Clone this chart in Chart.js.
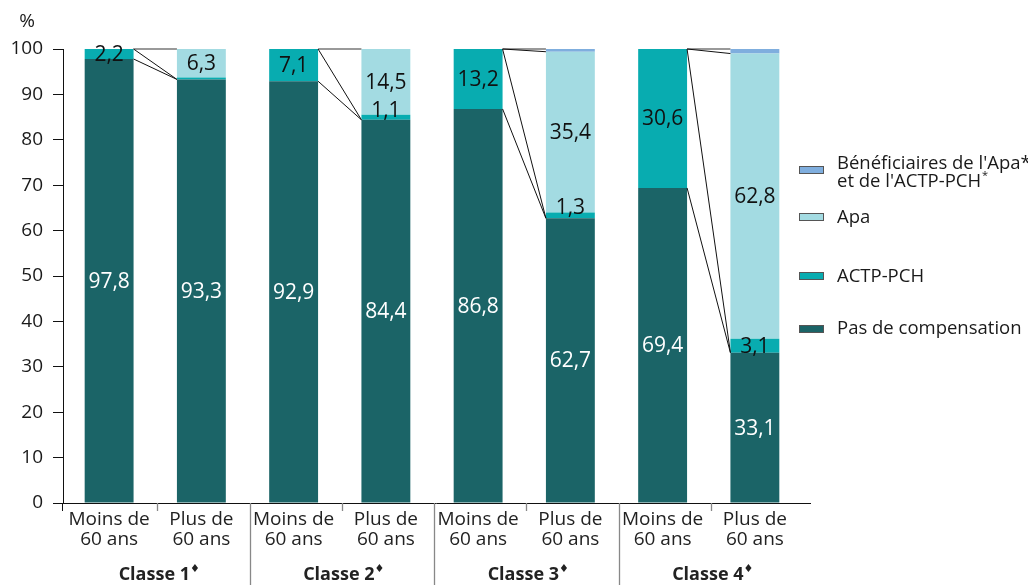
<!DOCTYPE html>
<html>
<head>
<meta charset="utf-8">
<script src="https://cdn.jsdelivr.net/npm/chart.js@4.4.0/dist/chart.umd.min.js"></script>
<style>
html,body{margin:0;padding:0;background:#fff;}
</style>
</head>
<body>
<canvas id="CanvasChart" width="1028" height="585"></canvas>
<script>
// categories
const ageLabels = [['Moins de','60 ans'],['Plus de','60 ans'],['Moins de','60 ans'],['Plus de','60 ans'],
                   ['Moins de','60 ans'],['Plus de','60 ans'],['Moins de','60 ans'],['Plus de','60 ans']];
const groupLabels = ['Classe 1','Classe 2','Classe 3','Classe 4'];

// series values (%)
const pasComp   = [97.8, 93.3, 92.9, 84.4, 86.8, 62.7, 69.4, 33.1];
const actpPch   = [2.2, 0.4, 7.1, 1.1, 13.2, 1.3, 30.6, 3.1];
const apa       = [0, 6.3, 0, 14.5, 0, 35.4, 0, 62.8];
const apaEtActp = [0, 0, 0, 0, 0, 0.6, 0, 1.0];

// y ticks
const yTicks = [0,10,20,30,40,50,60,70,80,90,100];

const FONT = '"Open Sans", sans-serif';
const colPas = '#1b6467', colActp = '#08acb0', colApa = '#a3dbe2', colBoth = '#7faede';

function fmt(v){ return v.toFixed(1).replace('.', ','); }

const extras = {
  id: 'extras',
  afterDatasetsDraw(chart) {
    const ctx = chart.ctx, ys = chart.scales.y, area = chart.chartArea;
    const py = v => ys.getPixelForValue(v);
    const bars = chart.getDatasetMeta(0).data;
    const line = (x1,y1,x2,y2) => { ctx.beginPath(); ctx.moveTo(x1,y1); ctx.lineTo(x2,y2); ctx.stroke(); };
    ctx.save();

    // connector lines between the two bars of each class
    for (let g = 0; g < groupLabels.length; g++) {
      const l = 2*g, r = 2*g+1;
      const xl = bars[l].x + bars[l].width/2, xr = bars[r].x - bars[r].width/2;
      const leftTop = pasComp[l] + actpPch[l] + apa[l] + apaEtActp[l];
      const rApaTop = pasComp[r] + actpPch[r] + apa[r];
      const rTop = rApaTop + apaEtActp[r];
      ctx.strokeStyle = '#777'; ctx.lineWidth = 1.6;
      line(xl, py(leftTop), xr, py(rTop));
      ctx.strokeStyle = '#111'; ctx.lineWidth = 1;
      if (apaEtActp[r] > 0) line(xl, py(leftTop), xr, py(rApaTop));
      line(xl, py(leftTop), xr, py(pasComp[r]));
      line(xl, py(pasComp[l]), xr, py(pasComp[r]));
    }

    // value labels
    ctx.textAlign = 'center'; ctx.textBaseline = 'middle';
    ctx.font = '21px ' + FONT;
    [pasComp, actpPch, apa].forEach((arr, d) => {
      const meta = chart.getDatasetMeta(d);
      arr.forEach((v, j) => {
        if (v < 1) return;
        const el = meta.data[j];
        let cy = (el.y + el.base) / 2;
        if (v < 2) cy = el.y - 5;
        ctx.fillStyle = d === 0 ? '#fff' : '#111';
        ctx.fillText(fmt(v), el.x, cy + 1);
      });
    });

    // x axis line and ticks
    const bot = area.bottom;
    ctx.strokeStyle = '#111'; ctx.lineWidth = 1;
    line(area.left - 1, bot + 0.5, area.right + 10, bot + 0.5);
    line(area.left - 0.5, bot, area.left - 0.5, bot + 8);
    ctx.strokeStyle = '#888'; ctx.lineWidth = 1.3;
    for (let i = 1; i < bars.length; i++) {
      const xb = Math.round((bars[i-1].x + bars[i].x) / 2) + 2.5;
      if (i % 2 === 0) line(xb, bot, xb, 585);
      else line(xb, bot, xb, bot + 8);
    }

    // group labels
    ctx.fillStyle = '#222';
    ctx.textBaseline = 'middle';
    for (let g = 0; g < groupLabels.length; g++) {
      const cx = (bars[2*g].x + bars[2*g+1].x) / 2 + 4;
      ctx.font = 'bold 18px ' + FONT;
      const w = ctx.measureText(groupLabels[g]).width;
      ctx.font = '11px "DejaVu Sans"';
      const w2 = ctx.measureText('\u2666').width;
      const x0 = cx - (w + w2) / 2;
      ctx.textAlign = 'left';
      ctx.font = 'bold 18px ' + FONT;
      ctx.fillText(groupLabels[g], x0, 575);
      ctx.font = '11px "DejaVu Sans"';
      ctx.fillText('\u2666', x0 + w, 569);
    }

    // "%" unit
    ctx.font = '19px ' + FONT; ctx.textAlign = 'center'; ctx.fillStyle = '#1a1a1a';
    ctx.fillText('%', 27, 22);

    // legend
    const items = [
      {c: colBoth, y: 170, lines: [["Bénéficiaires de l'Apa*", 164], ["et de l'ACTP-PCH", 182, '*']]},
      {c: colApa,  y: 217, lines: [['Apa', 218]]},
      {c: colActp, y: 276, lines: [['ACTP-PCH', 277]]},
      {c: colPas,  y: 329, lines: [['Pas de compensation', 329]]}
    ];
    items.forEach(it => {
      ctx.fillStyle = it.c;
      ctx.fillRect(799, it.y - 4, 25, 8);
      ctx.strokeStyle = '#555'; ctx.lineWidth = 1;
      ctx.strokeRect(799.5, it.y - 3.5, 24, 7);
      ctx.fillStyle = '#1a1a1a'; ctx.textAlign = 'left';
      it.lines.forEach(ln => {
        ctx.font = '18.5px ' + FONT;
        ctx.fillText(ln[0], 837, ln[1]);
        if (ln[2]) {
          const w = ctx.measureText(ln[0]).width;
          ctx.font = '11px ' + FONT;
          ctx.fillText(ln[2], 837 + w + 1, ln[1] - 6);
        }
      });
    });
    ctx.restore();
  }
};

const ctx1 = document.getElementById('CanvasChart').getContext('2d');
const myChart1 = new Chart(ctx1, {
  type: 'bar',
  data: {
    labels: ageLabels,
    datasets: [
      {label: 'Pas de compensation', data: pasComp, backgroundColor: colPas},
      {label: 'ACTP-PCH', data: actpPch, backgroundColor: colActp},
      {label: 'Apa', data: apa, backgroundColor: colApa},
      {label: "Bénéficiaires de l'Apa* et de l'ACTP-PCH*", data: apaEtActp, backgroundColor: colBoth}
    ]
  },
  options: {
    responsive: false,
    animation: false,
    layout: {padding: {top: 49, right: 227, left: 0, bottom: 0}},
    datasets: {bar: {categoryPercentage: 1, barPercentage: 0.53, borderWidth: 0}},
    plugins: {legend: {display: false}, tooltip: {enabled: false}},
    scales: {
      x: {
        stacked: true, offset: true,
        grid: {display: false, drawTicks: false},
        border: {display: false},
        ticks: {color: '#222', font: {family: FONT, size: 19, lineHeight: 1.05}, padding: 7, maxRotation: 0, autoSkip: false},
        afterFit(s) { s.height = 82; }
      },
      y: {
        stacked: true, min: 0, max: 100,
        afterBuildTicks(s) { s.ticks = yTicks.map(v => ({value: v})); },
        ticks: {color: '#1a1a1a', font: {family: FONT, size: 19}, padding: 10},
        grid: {drawOnChartArea: false, color: '#111', tickLength: 10},
        border: {display: true, color: '#111', width: 1},
        afterFit(s) { s.width = 63; }
      }
    }
  },
  plugins: [extras]
});
</script>
</body>
</html>
